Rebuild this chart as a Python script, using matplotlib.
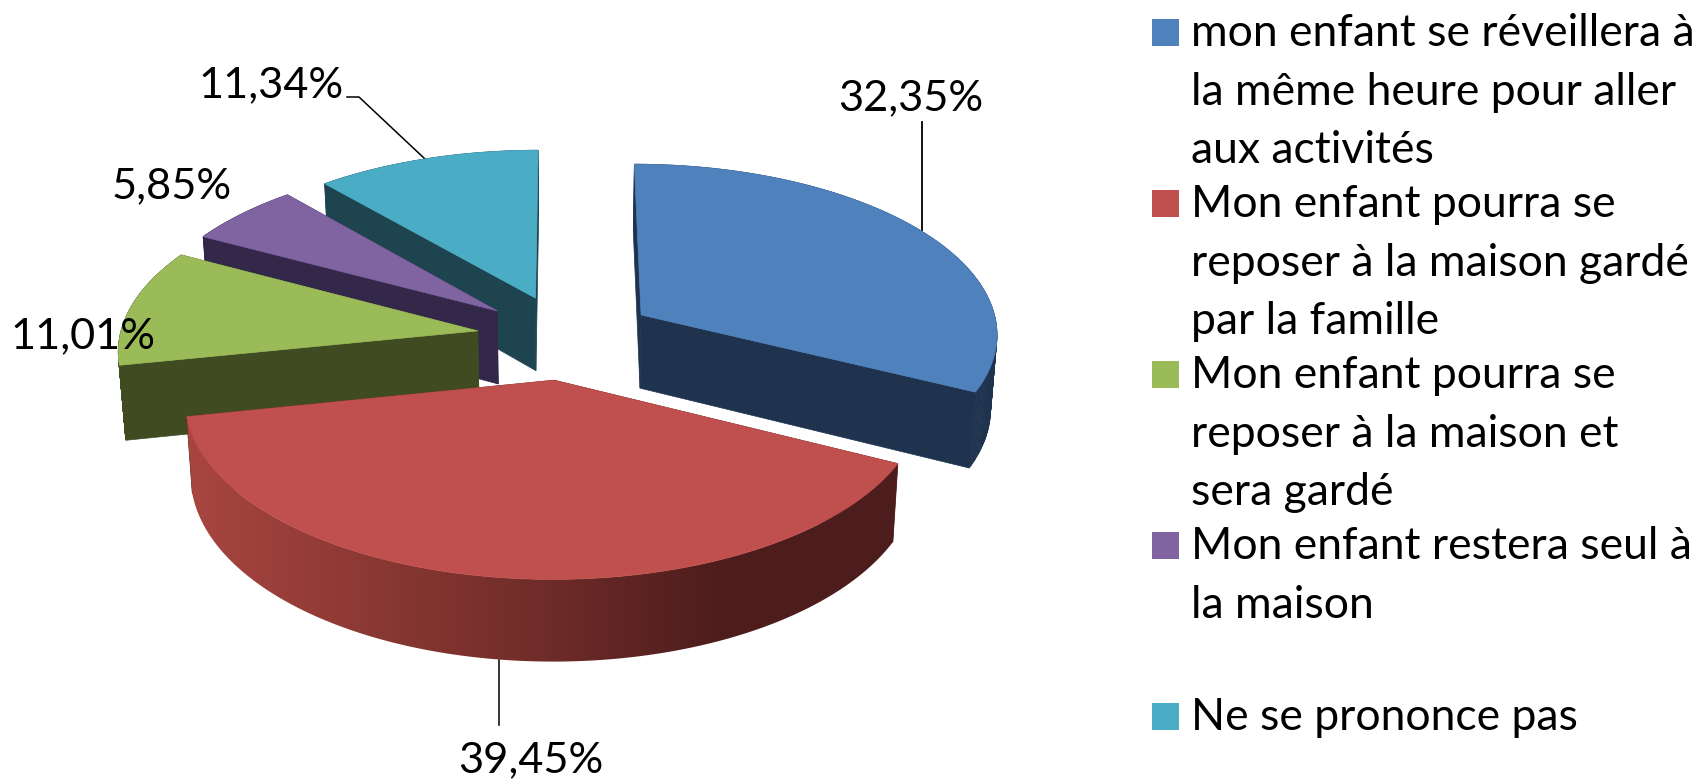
# exploded 3d pie, perspective done by hand

import numpy as np
import matplotlib
matplotlib.use("Agg")
import matplotlib.pyplot as plt
from matplotlib.patches import Polygon, Rectangle
from matplotlib.colors import to_rgb

plt.rcParams['font.family'] = ['Lato', 'DejaVu Sans']

values = [32.35, 39.45, 11.01, 5.85, 11.34]
value_labels = ["32,35%", "39,45%", "11,01%", "5,85%", "11,34%"]
legend_lines = [
    ["mon enfant se réveillera à", "la même heure pour aller", "aux activités"],
    ["Mon enfant pourra se", "reposer à la maison gardé", "par la famille"],
    ["Mon enfant pourra se", "reposer à la maison et", "sera gardé"],
    ["Mon enfant restera seul à", "la maison"],
    ["Ne se prononce pas"],
]
top_colors = ["#4F81BD", "#C0504D", "#9BBB59", "#8064A2", "#4BACC6"]
wall_colors = ["#1F334E", "#4D1D1C", "#404B22", "#33274A", "#1E4450"]

CX, CY = 566, 337
FX, FY = 358, 170
PERSP = 0.1
EXPLODE = 0.25
WALL = 74


def project(x, y, bottom=False):
    s = 1 / (1 + PERSP * y)
    px = FX * x * s
    py = CY - FY * y * s
    if bottom:
        return CX + px * 0.985, py + WALL / (1 + 0.08 * y)
    return CX + px, py


def red_wall_colors(px):
    # red side fades from left to right
    t = np.interp(px, [190, 540, 720], [0, 0.62, 1])[:, None]
    a = np.array(to_rgb("#A8453F"))
    b = np.array(to_rgb(wall_colors[1]))
    return a + (b - a) * t


def draw_slice(ax, start, end, i, z):
    mid = (start + end) / 2
    ex = EXPLODE * np.sin(mid)
    ey = EXPLODE * np.cos(mid)
    a = np.linspace(start, end, 160)
    xs = ex + np.sin(a)
    ys = ey + np.cos(a)
    tx, ty = project(xs, ys)
    bx, by = project(xs, ys, True)
    ax0, ay0 = project(ex, ey)
    bx0, by0 = project(ex, ey, True)

    # cut faces
    for k in (0, -1):
        quad = [(ax0, ay0), (tx[k], ty[k]), (bx[k], by[k]), (bx0, by0)]
        ax.add_patch(Polygon(quad, fc=wall_colors[i], ec=wall_colors[i], lw=0.5, zorder=z))

    # outer wall
    if i == 1:
        wall = list(zip(tx, ty)) + list(zip(bx[::-1], by[::-1]))
        patch = Polygon(wall, fc="none", ec="none", zorder=z)
        ax.add_patch(patch)
        grad_x = np.linspace(tx.min(), tx.max(), 400)
        im = ax.imshow(red_wall_colors(grad_x)[None, :, :], aspect="auto",
                       extent=[grad_x[0], grad_x[-1], by.max(), ty.min()],
                       interpolation="bilinear", zorder=z)
        im.set_clip_path(patch)
    else:
        # strips, the arcs cross each other near the side of the pie
        for k in range(len(a) - 1):
            quad = [(tx[k], ty[k]), (tx[k + 1], ty[k + 1]), (bx[k + 1], by[k + 1]), (bx[k], by[k])]
            ax.add_patch(Polygon(quad, fc=wall_colors[i], ec=wall_colors[i], lw=0.5, zorder=z))

    # top
    top = [(ax0, ay0)] + list(zip(tx, ty))
    ax.add_patch(Polygon(top, fc=top_colors[i], ec=top_colors[i], lw=0.5, zorder=z + 1))


fig = plt.figure(figsize=(17.02, 7.79), dpi=100)
ax = fig.add_axes([0, 0, 1, 1])
ax.axis("off")

# angles clockwise from north
angles = np.concatenate([[0], np.cumsum(values)]) / sum(values) * 2 * np.pi

# back slices first
for n, i in enumerate([4, 3, 2, 0, 1]):
    draw_slice(ax, angles[i], angles[i + 1], i, 2 + 2 * n)

ax.set_xlim(0, 1702)
ax.set_ylim(779, 0)

# leader lines
ax.plot([922, 922], [122, 230], color="black", lw=1.3, zorder=1)
ax.plot([499, 499], [660, 725], color="black", lw=1.1, zorder=1)
ax.plot([347, 359, 425], [97, 97, 159], color="black", lw=1.1, zorder=1)

# value labels
label_pos = [(838, 110), (458, 772), (10, 348), (112, 198), (198, 97)]
for lab, pos in zip(value_labels, label_pos):
    ax.text(pos[0], pos[1], lab, fontsize=31.2, color="black", ha="left", va="baseline", zorder=20)

# legend
for i, lines in enumerate(legend_lines):
    y0 = 46 + 171 * i
    ax.add_patch(Rectangle((1152, y0 - 27), 27, 27, fc=top_colors[i], ec="none"))
    for j, line in enumerate(lines):
        ax.text(1191, y0 + 58.5 * j, line, fontsize=32, color="black", ha="left", va="baseline")

fig.savefig("out.png", dpi=100, facecolor="white")
